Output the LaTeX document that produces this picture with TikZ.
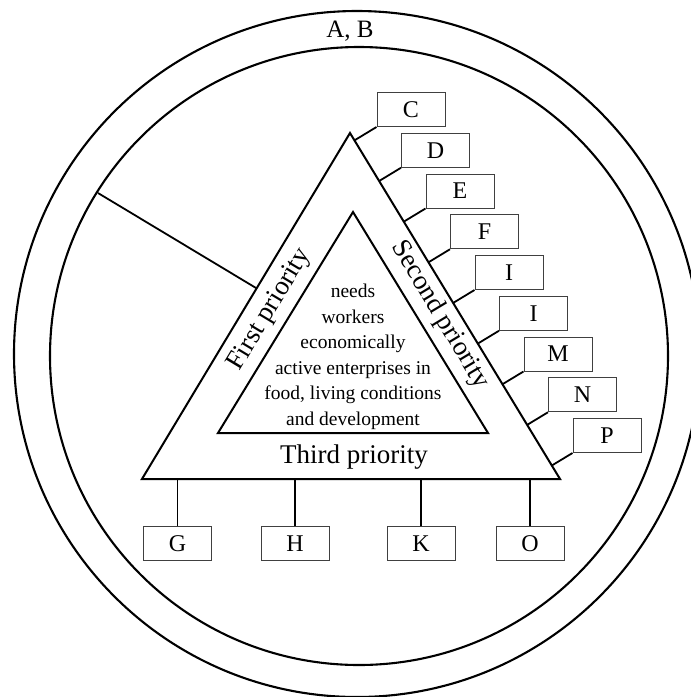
\documentclass[tikz,border=0pt]{standalone}
\usepackage{fontspec}
\setmainfont{Liberation Serif}
\usetikzlibrary{calc,positioning}
\tikzset{
  ring/.style={draw=black,line width=2.1pt},
  tri/.style={draw=black,line width=2pt,line join=miter},
  link/.style={draw=black,line width=1.8pt},
  tag/.style={draw=black!75,line width=1pt,minimum width=68pt,minimum height=34pt,inner sep=0pt,fill=white,font=\fontsize{24}{26}\selectfont},
  side/.style={font=\fontsize{27}{29}\selectfont,inner sep=0pt}
}

\begin{document}
\begin{tikzpicture}[x=1pt,y=-1pt]
  \useasboundingbox (0,0) rectangle (691,697);
  \clip (0,0) rectangle (691,697);
  % rings
  \draw[ring] (357,354) circle [radius=343pt];
  \draw[ring] (359,356) circle [radius=309pt];
  \node[font=\fontsize{25}{27}\selectfont] (ab) at (350,31) {A, B};
  % triangles
  \coordinate (top) at (350,133); \coordinate (left) at (142,479); \coordinate (right) at (560,479);
  \coordinate (itop) at (353,212); \coordinate (ileft) at (218,433); \coordinate (iright) at (488,433);
  \draw[tri] (top) -- (left) -- (right) -- cycle;
  \draw[tri] (itop) -- (ileft) -- (iright) -- cycle;
  \node[side,rotate=59] (first) at (270,310) {First priority};
  \node[side,rotate=-59] (second) at (440,315) {Second priority};
  \node[side] (third) at (354,457) {Third priority};
  \node[align=center,font=\fontsize{19.5}{25.5}\selectfont] (core) at (353,357) {needs\\workers\\economically\\active enterprises in\\food, living conditions\\and development};
  % link to the ring
  \coordinate (rim) at (98,193);
  \draw[link] (rim) -- ($(top)!(rim)!(left)$);
  % boxes on the right side
  \foreach \lbl [count=\k from 0] in {C,D,E,F,I,I,M,N,P}{
    \node[tag] (t\k) at ({411+24.5*\k},{109.5+40.75*\k}) {\lbl};
    \draw[link] (t\k.south west) -- ($(top)!(t\k.south west)!(right)$);
  }
  % boxes below
  \foreach \lbl/\xx in {G/177.5,H/295,K/421,O/530}{
    \node[tag] (b\lbl) at (\xx,543.5) {\lbl};
    \draw[link] (b\lbl.north) -- (b\lbl.north |- left);
  }
\end{tikzpicture}
\end{document}
